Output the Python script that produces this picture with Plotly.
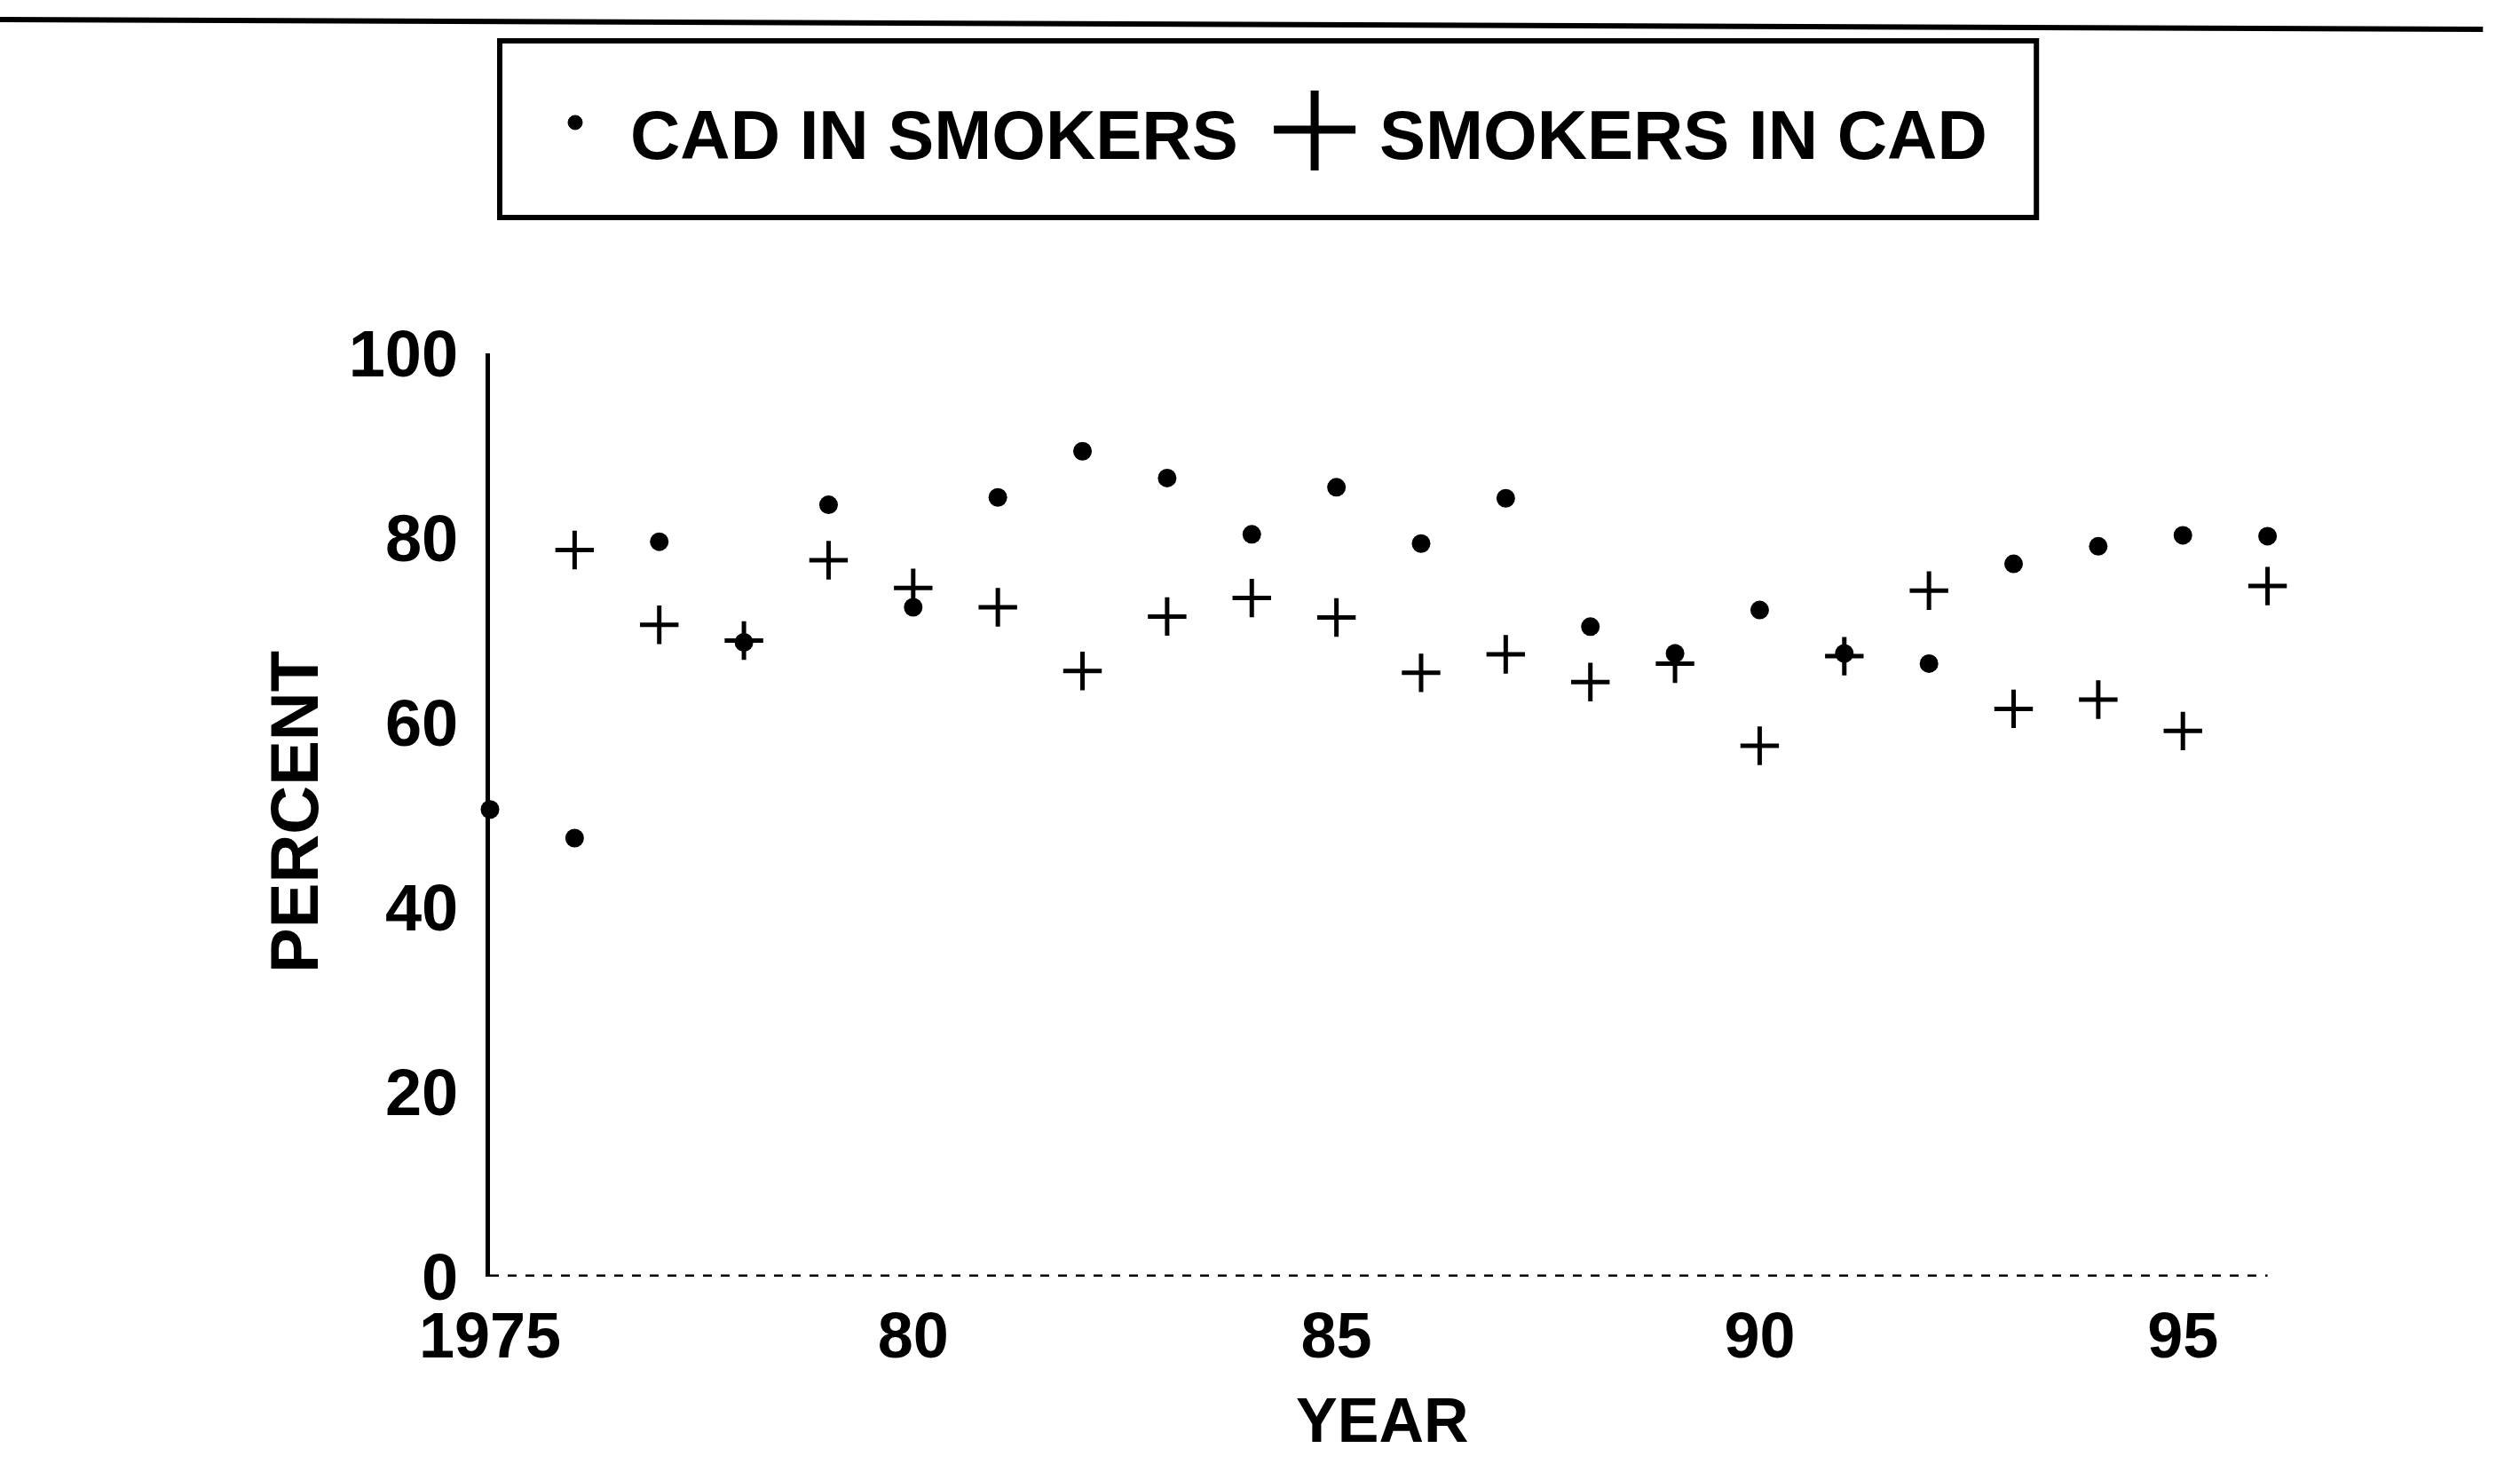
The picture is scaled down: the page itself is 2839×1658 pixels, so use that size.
import plotly.graph_objects as go

# ---------------- data ----------------
years_cad = [1975, 1976, 1977, 1978, 1979, 1980, 1981, 1982, 1983, 1984, 1985,
             1986, 1987, 1988, 1989, 1990, 1991, 1992, 1993, 1994, 1995, 1996]
cad_in_smokers = [50.6, 47.5, 79.6, 68.7, 83.6, 72.5, 84.4, 89.4, 86.5, 80.4, 85.5,
                  79.4, 84.3, 70.4, 67.5, 72.2, 67.5, 66.4, 77.2, 79.1, 80.3, 80.2]

years_smk = [1976, 1977, 1978, 1979, 1980, 1981, 1982, 1983, 1984, 1985, 1986,
             1987, 1988, 1989, 1990, 1991, 1992, 1993, 1994, 1995, 1996]
smokers_in_cad = [78.7, 70.6, 68.9, 77.6, 74.6, 72.5, 65.6, 71.5, 73.5, 71.4, 65.4,
                  67.4, 64.4, 66.4, 57.5, 67.2, 74.3, 61.5, 62.5, 59.1, 74.8]

x_tickvals = [1975, 1980, 1985, 1990, 1995]
x_ticktext = ["1975", "80", "85", "90", "95"]
y_tickvals = [0, 20, 40, 60, 80, 100]
y_ticktext = ["0", "20", "40", "60", "80", "100"]

legend_labels = ["CAD IN SMOKERS", "SMOKERS IN CAD"]
x_title = "YEAR"
y_title = "PERCENT"

# ---------------- layout geometry (pixels) ----------------
W, H = 2839, 1658
X_RANGE = [1975, 1998.5]
Y_RANGE = [0, 100]
L, T, B = 552, 398, 1438
PX_PER_YEAR = 95.35
R = L + (X_RANGE[1] - X_RANGE[0]) * PX_PER_YEAR

def px(xp):
    return (xp - L) / (R - L)

def py(yp):
    return (B - yp) / (B - T)

FONT = "Liberation Sans, Arial, Helvetica, sans-serif"
BLACK = "#000000"

fig = go.Figure()

fig.add_trace(go.Scatter(
    x=years_cad, y=cad_in_smokers, mode="markers", name=legend_labels[0],
    marker=dict(symbol="circle", size=21, color=BLACK),
    cliponaxis=False, showlegend=False,
))
fig.add_trace(go.Scatter(
    x=years_smk, y=smokers_in_cad, mode="markers", name=legend_labels[1],
    marker=dict(symbol="cross-thin", size=31, color=BLACK,
                line=dict(color=BLACK, width=5)),
    cliponaxis=False, showlegend=False,
))

shapes = []
# dotted x axis baseline
shapes.append(dict(type="line", xref="x", yref="y", x0=1975, x1=1996, y0=0, y1=0,
                   line=dict(color=BLACK, width=5, dash="10px,10px")))
# top rule across the page
shapes.append(dict(type="line", xref="paper", yref="paper",
                   x0=px(0), x1=px(2797), y0=py(22), y1=py(33),
                   line=dict(color=BLACK, width=6)))
# legend box
shapes.append(dict(type="rect", xref="paper", yref="paper",
                   x0=px(563), x1=px(2294), y0=py(245), y1=py(46),
                   line=dict(color=BLACK, width=6), fillcolor="rgba(0,0,0,0)"))
# legend dot symbol
shapes.append(dict(type="circle", xref="paper", yref="paper",
                   x0=px(640), x1=px(656), y0=py(146), y1=py(130),
                   line=dict(color=BLACK, width=1), fillcolor=BLACK))
# legend plus symbol
shapes.append(dict(type="line", xref="paper", yref="paper",
                   x0=px(1435), x1=px(1527), y0=py(146), y1=py(146),
                   line=dict(color=BLACK, width=9)))
shapes.append(dict(type="line", xref="paper", yref="paper",
                   x0=px(1481), x1=px(1481), y0=py(102), y1=py(192),
                   line=dict(color=BLACK, width=9)))

annotations = [
    dict(text=legend_labels[0], xref="paper", yref="paper", x=px(708), y=py(152),
         xanchor="left", yanchor="middle", showarrow=False,
         font=dict(family=FONT, size=78, color=BLACK, weight="bold")),
    dict(text=legend_labels[1], xref="paper", yref="paper", x=px(1552), y=py(152),
         xanchor="left", yanchor="middle", showarrow=False,
         font=dict(family=FONT, size=78, color=BLACK, weight="bold")),
    dict(text=y_title, xref="paper", yref="paper", x=px(331), y=py(914),
         xanchor="center", yanchor="middle", textangle=-90, showarrow=False,
         font=dict(family=FONT, size=76, color=BLACK, weight="bold")),
    dict(text=x_title, xref="paper", yref="paper", x=px(1557), y=py(1600),
         xanchor="center", yanchor="middle", showarrow=False,
         font=dict(family=FONT, size=70, color=BLACK, weight="bold")),
]

fig.update_layout(
    width=W, height=H,
    margin=dict(l=L, r=W - R, t=T, b=H - B, pad=0),
    paper_bgcolor="white", plot_bgcolor="white",
    showlegend=False,
    shapes=shapes, annotations=annotations,
    font=dict(family=FONT, color=BLACK),
)
fig.update_xaxes(
    range=X_RANGE, tickvals=x_tickvals, ticktext=x_ticktext,
    showgrid=False, zeroline=False, showline=False, ticks="",
    ticklabelstandoff=18,
    tickfont=dict(family=FONT, size=72, color=BLACK, weight="bold"),
)
fig.update_yaxes(
    range=Y_RANGE, tickvals=y_tickvals, ticktext=y_ticktext,
    showgrid=False, zeroline=False, showline=True, linecolor=BLACK, linewidth=5,
    ticks="", ticklabelstandoff=16,
    tickfont=dict(family=FONT, size=74, color=BLACK, weight="bold"),
)

fig.write_html("out.html", config={"displayModeBar": False},
               post_script="document.body.style.margin='0';")
